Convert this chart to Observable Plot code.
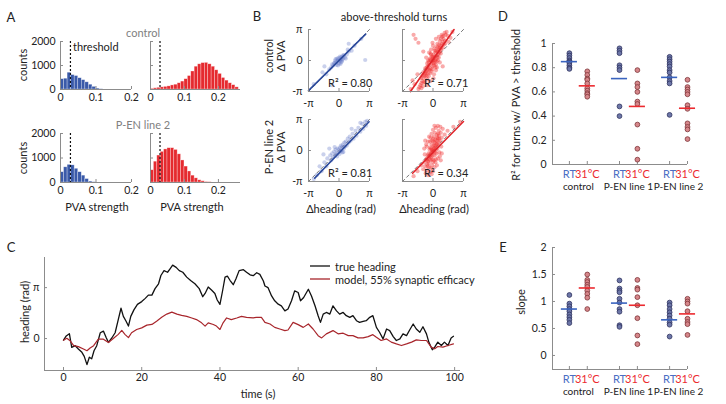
<!DOCTYPE html>
<html><head><meta charset="utf-8">
<script src="https://cdn.jsdelivr.net/npm/d3@7"></script>
<script src="https://cdn.jsdelivr.net/npm/@observablehq/plot@0.6"></script>
<style>
body{margin:0;background:#fff;}
#fig{position:relative;width:726px;height:404px;overflow:hidden;font-family:Lato,sans-serif;color:#222;}
.lab{position:absolute;white-space:nowrap;line-height:1;font-family:Lato,sans-serif;}
</style></head><body><div id="fig"></div>
<script>
// ---------- DATA ----------
// Panel A: PVA strength histograms (bin width 0.01, counts)
const pvaBinWidth = 0.01;
const pvaThreshold = 0.028;
const histControlRT  = [430,450,700,600,560,470,390,300,200,110,40,10];
const histControlHot = [30,50,70,90,110,130,170,200,260,330,430,560,750,950,1050,1100,1110,1050,950,800,650,480,370,260,180,90];
const histLine2RT    = [420,620,720,700,560,420,280,140,40,10];
const histLine2Hot   = [500,850,1100,1250,1350,1400,1400,1330,1150,900,650,450,280,170,90,50,20,10];
const histTitles = ["control", "P-EN line 2"];

// Panel B: above-threshold turns, Δheading vs ΔPVA
const bControlRT = [[-0.5,-0.3],[-0.3,-0.2],[-0.1,0.1],[0.1,0.0],[0.2,0.3],[0.4,0.2],[-0.6,-0.5],[0.3,-0.1],[0.0,-0.3],[-0.2,0.2],[0.5,0.5],[0.6,0.3],[-0.4,0.0],[0.2,-0.2],[-0.7,-0.4],[0.8,0.6],[-0.1,-0.5],[0.1,0.4],[0.35,0.05],[-0.25,-0.45],[0.7,0.2],[-0.8,-0.7],[0.45,0.55],[-0.05,0.25],[0.15,-0.35],[1.0,0.9],[-1.0,-0.9],[0.9,1.1],[-0.35,0.15],[0.25,0.15],[-2.6,-2.4],[-1.7,-1.2],[-0.7,-2.5],[1.0,1.7],[2.7,0.05],[1.6,1.5],[2.3,2.2],[-1.3,-1.4],[1.3,1.0],[-1.5,-0.6],[0.05,0.0],[-0.15,-0.05],[0.3,0.4],[-0.45,-0.25]];
const bControlHot = [[0,0],[0.1,0.2],[-0.1,-0.1],[0.2,0.4],[-0.2,-0.3],[0.3,0.1],[-0.3,0.2],[0.15,-0.25],[-0.15,0.35],[0.05,0.6],[-0.05,-0.6],[0.25,0.8],[-0.25,-0.8],[0.4,0.5],[-0.4,-0.5],[0.35,-0.1],[-0.35,0.05],[0.5,0.9],[-0.5,-0.9],[0.45,0.3],[-0.45,-0.2],[0.6,1.1],[-0.6,-1.0],[0.55,0.6],[-0.55,-0.6],[0.7,1.3],[-0.7,-1.3],[0.65,0.8],[-0.65,-0.7],[0.8,1.5],[-0.8,-1.5],[0.75,1.0],[-0.75,-1.1],[0.9,1.7],[-0.9,-1.6],[0.85,1.2],[-0.85,-1.3],[1.0,1.9],[-1.0,-1.8],[1.1,2.2],[-1.1,-2.1],[1.2,2.0],[-1.2,-2.3],[0.95,2.4],[-0.95,-2.2],[1.3,2.6],[-1.3,-2.5],[0.7,2.0],[-0.6,-1.9],[0.4,1.4],[-0.3,-1.3],[0.2,1.0],[-0.1,-0.9],[0.1,-0.5],[0.0,0.4],[-0.2,0.6],[0.3,-0.4],[0.5,0.0],[-0.5,0.0],[0.6,0.3],[-0.6,-0.3],[0.8,0.7],[-0.8,-0.8],[1.0,1.3],[-1.0,-1.2],[1.1,1.6],[-1.1,-1.5],[1.4,2.9],[-1.4,-2.7],[1.5,2.5],[-1.5,-2.9],[1.2,2.8],[-1.2,-2.8],[0.9,2.6],[-0.2,1.1],[0.3,-1.0],[-0.4,0.8],[0.4,-0.7],[-0.7,0.3],[0.7,-0.2],[-1.6,-1.4],[1.6,1.9],[-1.8,2.2],[-1.5,1.8],[-2.0,2.6],[-1.9,-2.4],[-2.3,-2.9],[-2.1,-2.0],[1.8,2.3],[2.0,2.9],[0.0,1.5],[0.1,-1.4],[-0.05,1.8],[0.05,-1.8],[0.3,2.2],[-0.3,-2.1],[0.6,2.4],[-0.6,-2.5],[0.45,1.7],[-0.45,-1.6],[0.15,1.2],[-0.15,-1.1],[0.25,-0.7],[-0.25,0.7],[0.2,0.0],[-0.2,0.0],[0.0,-0.25],[0.0,0.25],[0.5,1.3],[-0.5,-1.3],[0.35,0.95],[-0.35,-0.95],[0.8,2.2],[-0.8,-2.2],[1.05,2.5],[-1.05,-2.6],[1.25,1.7],[-1.25,-1.8],[0.65,1.6],[-0.65,-1.6],[-1.0,0.9],[1.0,-0.6]];
const bLine2RT = [[-2.6,-2.9],[-2.3,-2.5],[-2.0,-1.6],[-1.8,-2.1],[-1.5,-1.2],[-1.3,-1.6],[-1.2,-0.8],[-1.0,0.2],[-0.9,-0.5],[-0.8,-1.0],[-0.7,-0.3],[-0.6,-0.7],[-0.5,-0.1],[-0.4,-0.5],[-0.35,0.1],[-0.3,-0.3],[-0.2,-0.6],[-0.15,0.2],[-0.1,-0.2],[0.0,0.1],[0.05,-0.35],[0.1,0.3],[0.15,-0.1],[0.2,0.5],[0.25,0.0],[0.3,0.35],[0.35,-0.2],[0.4,0.6],[0.5,0.2],[0.55,0.8],[0.6,0.4],[0.7,0.9],[0.8,0.5],[0.9,1.2],[1.0,0.8],[1.1,1.4],[1.2,1.0],[1.4,1.7],[1.5,1.2],[1.7,2.0],[1.8,1.5],[2.0,2.3],[2.2,1.9],[2.4,2.7],[2.5,2.2],[2.7,2.9],[2.8,2.5],[2.9,3.0],[-0.45,0.35],[0.45,-0.15],[1.3,2.2],[2.2,2.8],[-1.6,-0.4]];
const bLine2Hot = [[0,0],[0.1,0.3],[-0.1,-0.2],[0.2,0.5],[-0.2,-0.4],[0.3,0.1],[-0.3,0.3],[0.15,-0.5],[-0.15,0.6],[0.05,0.9],[-0.05,-0.9],[0.25,1.1],[-0.25,-1.0],[0.4,0.7],[-0.4,-0.6],[0.35,-0.3],[-0.35,0.1],[0.5,1.2],[-0.5,-1.1],[0.45,0.2],[-0.45,-0.3],[0.6,1.5],[-0.6,-1.4],[0.55,0.5],[-0.55,-0.5],[0.7,1.0],[-0.7,-0.9],[0.65,-0.2],[-0.65,0.4],[0.8,1.8],[-0.8,-1.6],[0.1,1.4],[-0.1,-1.5],[0.2,1.8],[-0.2,-1.8],[0.0,2.1],[0.0,-2.1],[0.3,2.3],[-0.3,-2.2],[0.15,2.5],[-0.15,-2.4],[0.4,1.6],[-0.4,-1.7],[0.5,-0.8],[-0.5,0.9],[0.25,-1.2],[-0.25,1.3],[0.6,2.0],[-0.6,-2.0],[0.7,-0.6],[-0.7,0.6],[0.9,1.3],[-0.9,-1.2],[0.85,0.4],[-0.85,-0.4],[1.0,2.2],[-1.0,-1.9],[0.05,0.15],[-0.05,-0.15],[0.12,-0.05],[-0.12,0.05],[0.2,0.8],[-0.2,-0.7],[0.35,1.0],[-0.35,-0.9],[0.45,1.3],[-0.45,-1.3],[0.55,1.7],[-0.55,-1.6],[0.3,-0.9],[-0.3,0.9],[0.1,-1.0],[-0.1,1.0],[0.0,1.2],[0.0,-1.2],[0.15,-1.7],[-0.15,1.7],[0.4,-1.5],[-0.4,1.4],[0.65,1.2],[-0.65,-1.0],[0.75,2.4],[-0.75,-2.3],[0.5,2.5],[-0.5,-2.5],[1.2,1.6],[-1.2,-1.5],[1.5,2.0],[-1.6,-2.1],[0.9,-0.3],[-0.9,0.2],[0.25,0.3],[-0.25,-0.3],[0.35,0.6],[-0.35,-0.6],[0.05,0.5],[-0.05,-0.5],[0.2,-0.2],[-0.2,0.2],[2.1,2.4],[-2.0,-2.6],[2.8,2.9],[0.6,0.8],[-0.6,-0.8],[0.8,-1.0],[-0.8,1.0]];
// regression fits: slope, intercept, x-range
const bFitSlope     = [0.97, 1.40, 1.02, 1.00];
const bFitIntercept = [0.0, 0.10, -0.25, -0.20];
const bFitXmin      = [-3.14159, -2.32, -2.5, -2.1];
const bFitXmax      = [2.75, 2.17, 3.1, 3.14];
const bR2 = ["0.80", "0.71", "0.81", "0.34"];
const bRowLabels = ["control", "P-EN line 2"];

// Panel C: heading over time [time s, rad]
const cTrueHeading = [[0,-0.1],[0.7,0.16],[1.5,0.3],[2.1,-0.54],[3,-0.44],[3.8,-0.64],[4.7,-0.85],[5.3,-1.1],[6.0,-1.61],[6.6,-1.15],[7.2,-1.25],[7.8,-0.75],[8.5,-0.44],[9.4,0.36],[10.2,0.46],[10.9,0.06],[11.5,-0.24],[12.3,0.02],[13.2,0.36],[14.0,1.17],[14.7,1.87],[15.3,1.37],[16.0,1.07],[16.6,0.77],[17.2,1.37],[18.0,1.77],[18.9,2.11],[20.0,2.28],[20.9,2.48],[21.7,2.68],[22.6,2.68],[23.4,3.08],[24.3,3.38],[24.9,3.89],[25.7,4.19],[26.6,4.09],[27.2,4.29],[27.9,4.53],[28.8,4.39],[29.6,4.19],[30.5,4.09],[31.5,3.79],[32.5,3.58],[33.6,3.38],[34.7,3.08],[35.6,2.58],[36.2,2.78],[37.0,3.18],[37.9,2.98],[38.7,2.78],[39.3,2.38],[40.0,2.11],[40.7,2.98],[41.3,3.79],[41.9,3.85],[42.6,3.58],[43.4,3.32],[44.1,3.69],[44.9,4.19],[46.0,4.25],[46.8,4.09],[47.7,3.93],[48.5,3.88],[49.4,4.06],[50.2,3.96],[51.1,3.55],[51.5,3.24],[52.3,3.14],[53.2,2.63],[54.0,2.33],[54.9,2.12],[55.7,2.02],[56.6,1.71],[57.4,1.82],[58.3,2.33],[59.1,2.94],[60.0,2.84],[60.6,2.33],[61.4,2.53],[62.6,3.04],[63.4,2.63],[64.3,2.02],[65.1,1.41],[65.7,1.0],[66.4,1.51],[67.2,1.61],[68.1,1.51],[68.9,2.02],[69.8,1.71],[70.6,1.51],[71.5,1.61],[72.3,1.41],[73.2,1.31],[74.0,1.41],[74.9,1.10],[75.7,1.0],[76.6,1.06],[77.4,1.10],[78.3,1.31],[79.1,1.41],[80.0,0.69],[80.8,0.39],[81.7,-0.02],[82.6,0.59],[83.4,0.49],[84.3,0.12],[85.1,-0.12],[86.0,-0.02],[86.8,0.29],[87.7,0.18],[88.5,0.53],[89.4,0.90],[90.2,0.59],[91.1,0.39],[91.9,0.73],[92.8,0.29],[93.4,-0.22],[94.3,-0.69],[94.9,-0.53],[95.7,-0.22],[96.6,-0.43],[97.4,-0.22],[98.3,-0.43],[99.1,0.04],[99.7,0.14]];
const cModelHeading = [[0,-0.1],[0.85,0.02],[1.7,-0.14],[2.6,-0.44],[3.8,-0.5],[5.1,-0.64],[6.0,-0.75],[6.8,-0.58],[7.7,-0.44],[8.9,-0.04],[10.2,-0.04],[11.5,-0.24],[12.8,0.02],[14.0,0.26],[14.9,0.5],[15.7,0.26],[16.6,0.06],[17.4,0.36],[18.7,0.56],[20.0,0.66],[21.3,0.83],[22.6,0.87],[23.8,1.07],[25.1,1.31],[26.4,1.51],[27.7,1.63],[29.0,1.51],[30.2,1.43],[31.5,1.37],[32.8,1.27],[34.0,1.17],[35.3,0.97],[36.2,0.77],[37.0,0.97],[38.3,0.87],[39.1,0.77],[40.0,0.56],[40.8,0.97],[41.7,1.27],[42.9,1.17],[44.3,1.27],[45.5,1.37],[46.8,1.31],[48.5,1.28],[49.4,1.31],[50.6,1.31],[51.5,1.0],[52.8,0.90],[54.0,0.69],[55.3,0.59],[56.6,0.49],[57.4,0.53],[58.7,1.0],[60.0,0.86],[61.3,0.69],[62.6,0.90],[63.8,0.59],[65.1,0.18],[66.0,0.04],[67.2,0.29],[68.9,0.49],[70.2,0.29],[71.5,0.33],[72.8,0.18],[74.0,0.18],[75.3,0.04],[76.6,0.04],[77.9,0.12],[79.1,0.24],[80.0,0.08],[81.2,-0.12],[82.6,-0.02],[83.8,-0.22],[85.1,-0.33],[86.4,-0.43],[87.7,-0.33],[89.0,-0.22],[90.2,-0.08],[91.5,-0.12],[92.8,-0.12],[94.0,-0.53],[94.9,-0.63],[95.7,-0.49],[97.0,-0.53],[98.3,-0.43],[99.7,-0.33]];
const cLegend = ["true heading", "model, 55% synaptic efficacy"];

// Panels D & E
const groups = ["control", "P-EN line 1", "P-EN line 2"];
const conds = ["RT", "31°C"];
const r2RT  = [[0.92,0.90,0.88,0.86,0.85,0.84,0.82,0.80,0.79],[0.96,0.94,0.92,0.82,0.80,0.78,0.48,0.40],[0.89,0.87,0.85,0.83,0.81,0.78,0.76,0.72,0.69,0.67,0.41]];
const r2Hot = [[0.77,0.74,0.71,0.70,0.67,0.63,0.61,0.59,0.58,0.56],[0.78,0.67,0.64,0.60,0.52,0.50,0.33,0.13,0.04],[0.70,0.64,0.62,0.60,0.58,0.49,0.46,0.34,0.31,0.29,0.21]];
const r2MeanRT  = [0.85, 0.71, 0.72];
const r2MeanHot = [0.65, 0.48, 0.465];
const slopeRT  = [[1.12,0.96,0.91,0.86,0.82,0.76,0.71,0.66,0.60],[1.39,1.24,1.20,1.17,1.05,0.98,0.86,0.81,0.56,0.53],[0.98,0.93,0.86,0.80,0.74,0.68,0.61,0.57,0.35]];
const slopeHot = [[1.50,1.40,1.36,1.31,1.27,1.20,1.14,1.07,0.86],[1.40,1.25,1.22,1.08,0.93,0.69,0.37,0.21],[1.05,1.00,0.96,0.82,0.68,0.62,0.58,0.38]];
const slopeMeanRT  = [0.86, 0.97, 0.66];
const slopeMeanHot = [1.25, 0.93, 0.77];

// ---------- HELPERS ----------
const fig = document.getElementById("fig");
const AX = "#8c8c8c";
const BLUE = "#3a5aa9", RED = "#e52a2f";
const PI = Math.PI;
const FS = 10.5;

function panel(fr, xd, yd, marks) {
  const [x0, x1, y0, y1] = fr;
  const L = 45, R = 45, T = 20, B = 40;
  const svg = Plot.plot({
    width: x1 - x0 + L + R, height: y1 - y0 + T + B,
    marginLeft: L, marginRight: R, marginTop: T, marginBottom: B,
    x: {domain: xd, axis: null}, y: {domain: yd, axis: null},
    style: `position:absolute;left:${x0 - L}px;top:${y0 - T}px;overflow:visible;background:none;font-family:Lato,sans-serif;font-size:${FS}px;color:#222;max-width:none;`,
    marks
  });
  fig.appendChild(svg);
}
function axes(fr, xd, yd, o = {}) {
  const fw = fr[1] - fr[0], fh = fr[3] - fr[2];
  const tl = 3;
  const m = [Plot.ruleX([xd[0]], {stroke: AX}), Plot.ruleY([yd[0]], {stroke: AX})];
  const ddx = tl * (xd[1] - xd[0]) / fw, ddy = tl * (yd[1] - yd[0]) / fh;
  if (o.yt) m.push(Plot.ruleY(o.yt, {y: d => d, x1: () => xd[0], x2: () => xd[0] + ddx, stroke: AX}));
  if (o.xt) m.push(Plot.ruleX(o.xt, {x: d => d, y1: () => yd[0], y2: () => yd[0] + ddy, stroke: AX}));
  if (o.xt && o.xlab) m.push(Plot.axisX(o.xt, {tickSize: 0, tickPadding: o.xpad ?? 3, tickFormat: o.xf ?? (d => String(d)), label: null}));
  if (o.yt && o.ylab) m.push(Plot.axisY(o.yt, {tickSize: 0, tickPadding: o.ypad ?? 5, tickFormat: o.yf ?? (d => String(d)), label: null}));
  return m;
}
function lab(text, x, y, {size = 11, color = "#222", rot = false, anchor = "middle"} = {}) {
  const d = document.createElement("div");
  d.className = "lab"; d.textContent = text;
  d.style.left = x + "px"; d.style.top = y + "px"; d.style.fontSize = size + "px"; d.style.color = color;
  const tx = anchor === "start" ? "0" : "-50%";
  d.style.transform = `translate(${tx},-50%)` + (rot ? " rotate(-90deg)" : "");
  fig.appendChild(d);
}
const piFmt = d => d === 0 ? "0" : (d > 0 ? "π" : "-π");

// ---------- PANEL A ----------
function hist(counts, color) {
  const bins = counts.map((c, i) => ({x1: i * pvaBinWidth, x2: (i + 1) * pvaBinWidth, c}));
  return Plot.rectY(bins, {x1: "x1", x2: "x2", y: "c", fill: color, stroke: "#fff", strokeOpacity: 0.5, strokeWidth: 0.6});
}
const aHists = [[histControlRT, histControlHot], [histLine2RT, histLine2Hot]];
const aRowsY = [[41, 89], [133, 182]];
aHists.forEach(([rt, hot], row) => {
  const [ya, yb] = aRowsY[row];
  const frL = [60, 131, ya, yb], xdL = [0, 0.2];
  const frR = [150, 240, ya, yb], xdR = [0, 0.265];
  const yd = [0, 2000];
  panel(frL, xdL, yd, [
    hist(rt, BLUE),
    Plot.ruleX([pvaThreshold], {stroke: "#111", strokeDasharray: "2,2", strokeWidth: 1.2}),
    ...axes(frL, xdL, yd, {xt: [0, 0.1, 0.2], yt: [0, 1000, 2000], xlab: true, ylab: true, xpad: 4, ypad: 5})
  ]);
  panel(frR, xdR, yd, [
    hist(hot, RED),
    Plot.ruleX([pvaThreshold], {stroke: "#111", strokeDasharray: "2,2", strokeWidth: 1.2}),
    ...axes(frR, xdR, yd, {xt: [0, 0.1, 0.2], yt: [0, 1000, 2000], xlab: true, ylab: false, xpad: 4})
  ]);
  lab(histTitles[row], 143, ya - 9, {color: "#808080"});
  lab("counts", 22, (ya + yb) / 2, {rot: true});
});
lab("threshold", 73, 46, {anchor: "start"});
lab("PVA strength", 97, 206);
lab("PVA strength", 192, 206);
lab("A", 11, 17, {size: 13});

// ---------- PANEL B ----------
const bData = [bControlRT, bControlHot, bLine2RT, bLine2Hot];
const bFrames = [[308, 369, 29, 91], [402, 463, 29, 91], [308, 369, 119, 181], [402, 463, 119, 181]];
const bd = [-PI, PI];
bData.forEach((pts, i) => {
  const fr = bFrames[i];
  const isHot = i % 2 === 1;
  const col = isHot ? "#ef2b2b" : "#5b6fc4";
  const lineCol = isHot ? "#e0242a" : "#2c4a9c";
  const fit = [bFitXmin[i], bFitXmax[i]].map(x => ({x, y: bFitSlope[i] * x + bFitIntercept[i]}));
  const ident = bd.map(v => ({x: v, y: v}));
  panel(fr, bd, bd, [
    Plot.line(ident, {x: "x", y: "y", stroke: "#777", strokeDasharray: "3,3", strokeWidth: 1}),
    Plot.dot(pts, {x: d => d[0], y: d => d[1], r: 2.1, fill: col, fillOpacity: isHot ? 0.4 : 0.32, stroke: null}),
    Plot.line(fit, {x: "x", y: "y", stroke: lineCol, strokeWidth: 1.6}),
    ...axes(fr, bd, bd, {xt: [-PI, 0, PI], yt: [-PI, 0, PI], xlab: true, ylab: !isHot, xf: piFmt, yf: piFmt, xpad: 8, ypad: 6})
  ]);
  lab("R² = " + bR2[i], isHot ? 424 : 328, fr[3] - 9, {anchor: "start"});
});
bRowLabels.forEach((t, row) => {
  const cy = row === 0 ? 56 : 147;
  lab(t, 268, cy, {rot: true});
  lab("Δ PVA", 280, cy, {rot: true});
});
lab("Δheading (rad)", 341, 208);
lab("Δheading (rad)", 434, 208);
lab("above-threshold turns", 394, 16);
lab("B", 257, 16, {size: 13});

// ---------- PANEL C ----------
{
  const fr = [44, 460, 257, 370], xd = [-4.86, 101.5], yd = [-1.97, 5.0];
  panel(fr, xd, yd, [
    Plot.line(cTrueHeading, {x: d => d[0], y: d => d[1], stroke: "#111", strokeWidth: 1.3}),
    Plot.line(cModelHeading, {x: d => d[0], y: d => d[1], stroke: "#a8262c", strokeWidth: 1.2}),
    ...axes(fr, xd, yd, {xt: [0, 20, 40, 60, 80, 100], yt: [0, PI], xlab: true, ylab: true, yf: piFmt, xpad: 3, ypad: 5})
  ]);
  lab("heading (rad)", 24, 312, {rot: true});
  lab("time (s)", 258, 393);
  lab("C", 11, 247, {size: 13});
  // legend
  const ns = "http://www.w3.org/2000/svg";
  const lg = document.createElementNS(ns, "svg");
  lg.setAttribute("width", 30); lg.setAttribute("height", 20);
  lg.style.cssText = "position:absolute;left:308px;top:262px;overflow:visible";
  [["#111", 4], ["#a8262c", 17]].forEach(([c, y]) => {
    const l = document.createElementNS(ns, "line");
    l.setAttribute("x1", 2); l.setAttribute("x2", 22); l.setAttribute("y1", y); l.setAttribute("y2", y);
    l.setAttribute("stroke", c); l.setAttribute("stroke-width", 1.3);
    lg.appendChild(l);
  });
  fig.appendChild(lg);
  lab(cLegend[0], 335, 266, {anchor: "start"});
  lab(cLegend[1], 335, 279, {anchor: "start"});
}

// ---------- PANELS D & E ----------
const pos = (gi, ci) => gi * 2.8 + ci;
function dotPanel(fr, yd, rt, hot, meanRT, meanHot, yt, letter, ylabel, ylabX, ylabY) {
  const xd = [-0.944, 6.6];
  const ptsRT = rt.flatMap((arr, gi) => arr.map(v => ({x: pos(gi, 0), v})));
  const ptsHot = hot.flatMap((arr, gi) => arr.map(v => ({x: pos(gi, 1), v})));
  const mRT = meanRT.map((v, gi) => ({x: pos(gi, 0), v}));
  const mHot = meanHot.map((v, gi) => ({x: pos(gi, 1), v}));
  const catRT = groups.map((g, gi) => ({x: pos(gi, 0), t: conds[0]}));
  const catHot = groups.map((g, gi) => ({x: pos(gi, 1), t: conds[1]}));
  const names = groups.map((g, gi) => ({x: (pos(gi, 0) + pos(gi, 1)) / 2, t: g}));
  panel(fr, xd, yd, [
    ...axes(fr, xd, yd, {xt: [0, 1, 2].flatMap(gi => [pos(gi, 0), pos(gi, 1)]), yt, xlab: false, ylab: true, ypad: 6}),
    Plot.dot(ptsRT, {x: "x", y: "v", r: 2.4, fill: "#6d77a8", stroke: "#2d315e", strokeWidth: 0.8}),
    Plot.dot(ptsHot, {x: "x", y: "v", r: 2.4, fill: "#d6868a", stroke: "#7c3337", strokeWidth: 0.8}),
    Plot.ruleY(mRT, {y: "v", x1: d => d.x - 0.45, x2: d => d.x + 0.45, stroke: "#3a64bf", strokeWidth: 1.6}),
    Plot.ruleY(mHot, {y: "v", x1: d => d.x - 0.45, x2: d => d.x + 0.45, stroke: "#ec2a2f", strokeWidth: 1.6}),
    Plot.text(catRT, {x: "x", text: "t", frameAnchor: "bottom", dy: 13, fill: "#4a6ec4", fontSize: 11}),
    Plot.text(catHot, {x: "x", text: "t", frameAnchor: "bottom", dy: 13, fill: "#ec2a2f", fontSize: 11}),
    Plot.text(names, {x: "x", text: "t", frameAnchor: "bottom", dy: 25, fill: "#222", fontSize: 10, letterSpacing: "-0.2px"})
  ]);
  lab(letter, 503, fr[2] - (letter === "D" ? 27 : 0), {size: 13});
  lab(ylabel, ylabX, ylabY, {rot: true});
}
dotPanel([552, 687, 43, 164], [0, 1], r2RT, r2Hot, r2MeanRT, r2MeanHot, [0, 0.2, 0.4, 0.6, 0.8, 1], "D", "R² for turns w/ PVA > threshold", 515, 105);
dotPanel([552, 687, 247, 369], [-0.26, 2], slopeRT, slopeHot, slopeMeanRT, slopeMeanHot, [0, 0.5, 1, 1.5, 2], "E", "slope", 520, 302);
</script>
</body></html>
